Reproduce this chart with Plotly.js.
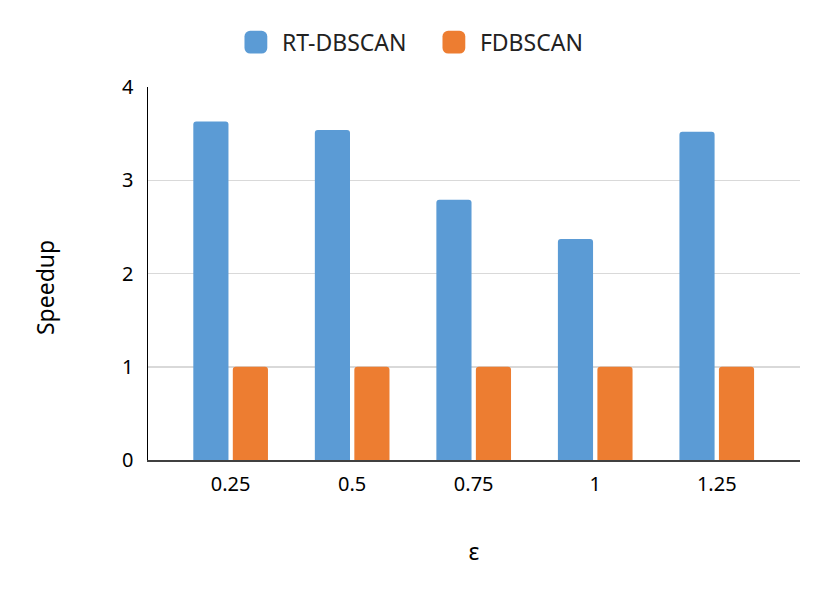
<!DOCTYPE html>
<html>
<head>
<meta charset="utf-8">
<script src="https://cdn.plot.ly/plotly-3.0.1.min.js"></script>
<style>
  html, body { margin: 0; padding: 0; background: #fff; }
  #chart { width: 830px; height: 596px; }
</style>
</head>
<body>
<div id="chart"></div>
<script>
// eps values on the x axis
var epsLabels = ['0.25', '0.5', '0.75', '1', '1.25'];

// speedup
var rtDbscan = [3.63, 3.54, 2.79, 2.37, 3.52];
var fDbscan = [1, 1, 1, 1, 1];

var font = "'Noto Sans', 'Open Sans', sans-serif";

var traces = [
    {
        x: epsLabels,
        y: rtDbscan,
        name: 'RT-DBSCAN',
        type: 'bar',
        marker: { color: '#5b9bd5', cornerradius: 3 }
    },
    {
        x: epsLabels,
        y: fDbscan,
        name: 'FDBSCAN',
        type: 'bar',
        marker: { color: '#ed7d31', cornerradius: 3 }
    }
];

var layout = {
    width: 830,
    height: 596,
    margin: { l: 148, r: 30, t: 87, b: 136 },
    font: { family: font, size: 20, color: '#000' },
    paper_bgcolor: '#fff',
    plot_bgcolor: '#fff',
    barmode: 'group',
    bargap: 0.35,
    bargroupgap: 0.11,
    showlegend: true,
    legend: {
        orientation: 'h',
        x: 0.144,
        xanchor: 'left',
        y: 1.12,
        yanchor: 'middle',
        font: { family: font, size: 23, color: '#222' },
        entrywidth: 153,
        tracegroupgap: 0
    },
    xaxis: {
        type: 'category',
        range: [-0.68, 4.685],
        showline: true,
        linecolor: '#404040',
        linewidth: 1.5,
        ticks: '',
        ticklabelstandoff: 5,
        tickfont: { size: 20 },
        title: { text: 'ε', font: { size: 23 }, standoff: 48 },
        automargin: false
    },
    yaxis: {
        range: [0, 4],
        tickvals: [0, 1, 2, 3, 4],
        showgrid: true,
        gridcolor: '#d9d9d9',
        gridwidth: 1.5,
        zeroline: false,
        showline: true,
        linecolor: '#000',
        linewidth: 1.5,
        ticks: '',
        ticklabelstandoff: 9,
        tickfont: { size: 20 },
        automargin: false
    },
    annotations: [{
        text: 'Speedup',
        xref: 'paper', yref: 'paper',
        x: 0, y: 0.461,
        xanchor: 'center', yanchor: 'middle',
        xshift: -103,
        textangle: -90,
        showarrow: false,
        font: { family: font, size: 23, color: '#000' }
    }]
};

Plotly.newPlot('chart', traces, layout, { displayModeBar: false, staticPlot: true }).then(function() {
    // bigger legend squares, as in the original
    document.querySelectorAll('.legend .legendpoints path').forEach(function(p) {
        p.setAttribute('transform', 'translate(14,0) scale(1.9)');
    });
});
</script>
</body>
</html>
